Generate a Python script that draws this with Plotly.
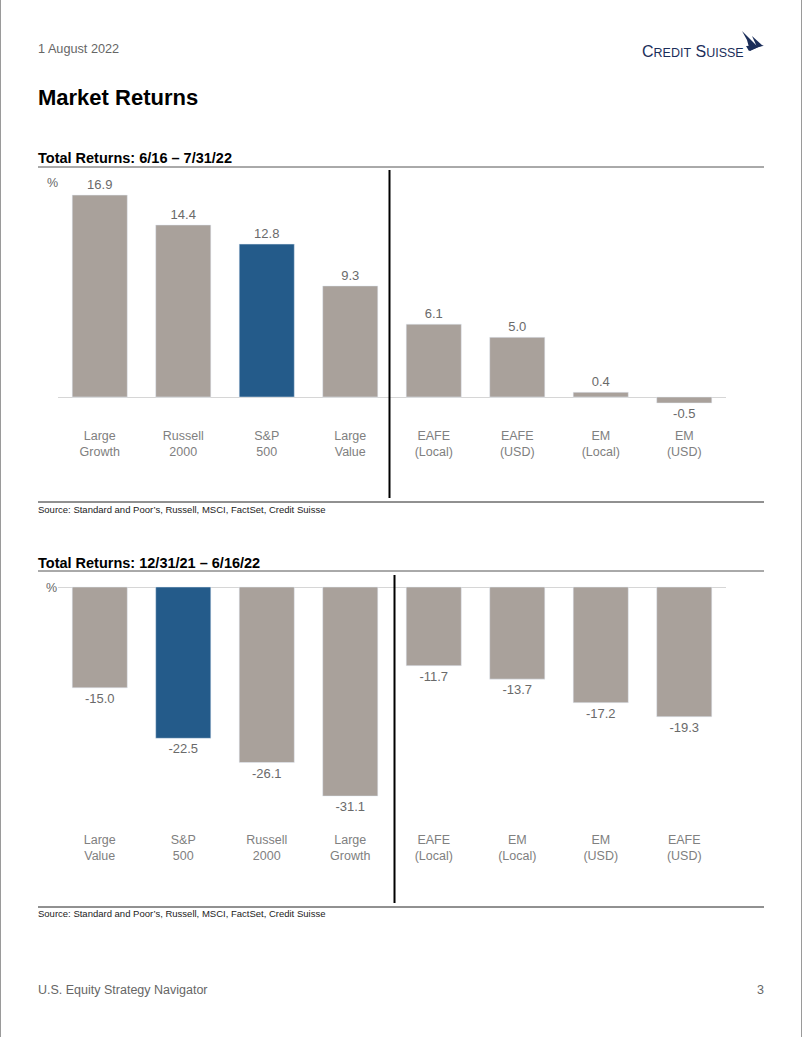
import plotly.graph_objects as go

W, H = 802, 1037

# ---- data ----
cats_top = ["Large<br>Growth", "Russell<br>2000", "S&P<br>500", "Large<br>Value",
            "EAFE<br>(Local)", "EAFE<br>(USD)", "EM<br>(Local)", "EM<br>(USD)"]
vals_top = [16.9, 14.4, 12.8, 9.3, 6.1, 5.0, 0.4, -0.5]

cats_bot = ["Large<br>Value", "S&P<br>500", "Russell<br>2000", "Large<br>Growth",
            "EAFE<br>(Local)", "EM<br>(Local)", "EM<br>(USD)", "EAFE<br>(USD)"]
vals_bot = [-15.0, -22.5, -26.1, -31.1, -11.7, -13.7, -17.2, -19.3]

highlight = "S&P<br>500"
GREY = "#A9A19B"
BLUE = "#245B8A"
NAVY = "#1B2E5A"
FONT = "Liberation Sans, Arial, sans-serif"


def px(x):
    return x / W


def py(y):
    return 1 - y / H


def colors(cats):
    return [BLUE if c == highlight else GREY for c in cats]


fig = go.Figure()

fig.add_trace(go.Bar(
    x=list(range(len(cats_top))), y=vals_top, marker_color=colors(cats_top),
    width=0.66, text=[f"{v:.1f}" for v in vals_top], textposition="outside",
    textfont=dict(size=13, color="#6a6a6a", family=FONT), cliponaxis=False,
    constraintext="none", xaxis="x", yaxis="y", showlegend=False, hoverinfo="skip"))

fig.add_trace(go.Bar(
    x=list(range(len(cats_bot))), y=vals_bot, marker_color=colors(cats_bot),
    width=0.66, text=[f"{v:.1f}" for v in vals_bot], textposition="outside",
    textfont=dict(size=13, color="#6a6a6a", family=FONT), cliponaxis=False,
    constraintext="none", xaxis="x2", yaxis="y2", showlegend=False, hoverinfo="skip"))

xcommon = dict(range=[-0.5, 7.5], domain=[px(58), px(726)], showline=False, ticks="",
               showgrid=False, zeroline=False, anchor="free",
               tickfont=dict(size=12.5, color="#808080", family=FONT), tickmode="array")

fig.update_layout(
    width=W, height=H, margin=dict(l=0, r=0, t=0, b=0),
    paper_bgcolor="white", plot_bgcolor="white", bargap=0.34,
    font=dict(family=FONT),
    xaxis=dict(**xcommon, position=py(426), tickvals=list(range(8)), ticktext=cats_top),
    yaxis=dict(domain=[py(498), py(170)], range=[-8.45, 19.0], showticklabels=False,
               showgrid=False, zeroline=True, zerolinecolor="#d6d6d6", zerolinewidth=1),
    xaxis2=dict(**xcommon, position=py(830), tickvals=list(range(8)), ticktext=cats_bot),
    yaxis2=dict(domain=[py(903), py(575)], range=[-47.0, 1.79], showticklabels=False,
                showgrid=False, zeroline=True, zerolinecolor="#d6d6d6", zerolinewidth=1),
)

shapes = []
# divider lines
shapes.append(dict(type="line", xref="x", yref="paper", x0=3.47, x1=3.47,
                   y0=py(498), y1=py(170), line=dict(color="black", width=2)))
shapes.append(dict(type="line", xref="x2", yref="paper", x0=3.53, x1=3.53,
                   y0=py(903), y1=py(575), line=dict(color="black", width=2)))
# title rules and bottom rules
for yy, col in [(167, "#555555"), (502, "#222222"), (571, "#555555"), (907, "#222222")]:
    shapes.append(dict(type="line", xref="paper", yref="paper", x0=px(38), x1=px(764),
                       y0=py(yy), y1=py(yy), line=dict(color=col, width=1)))
# page side borders
for xx in [0.5, 801.5]:
    shapes.append(dict(type="line", xref="paper", yref="paper", x0=px(xx), x1=px(xx),
                       y0=0, y1=1, line=dict(color="#9a9a9a", width=1)))


# logo sail
def pth(pts):
    return "M " + " L ".join(f"{px(a)},{py(b)}" for a, b in pts) + " Z"


shapes.append(dict(type="path", xref="paper", yref="paper",
                   path=pth([(742, 31), (758, 47), (750, 51), (747, 40)]),
                   fillcolor=NAVY, line=dict(width=0)))
shapes.append(dict(type="path", xref="paper", yref="paper",
                   path=pth([(752, 36), (763, 46), (757, 47)]),
                   fillcolor=NAVY, line=dict(width=0)))
shapes.append(dict(type="path", xref="paper", yref="paper",
                   path=pth([(746, 46), (764, 45), (749, 51)]),
                   fillcolor=NAVY, line=dict(width=0)))
fig.update_layout(shapes=shapes)


def ann(x, y, text, size, color="#000000", xanchor="left", family=FONT):
    fig.add_annotation(xref="paper", yref="paper", x=px(x), y=py(y), text=text,
                       showarrow=False, xanchor=xanchor, yanchor="middle",
                       font=dict(size=size, color=color, family=family))


ann(36, 49, "1 August 2022", 12.7, "#666666")
ann(36, 97, "<b>Market Returns</b>", 22, "#000000")
ann(746, 51, "C<span style='font-size:12.5px'>REDIT</span> S<span style='font-size:12.5px'>UISSE</span>",
    16, NAVY, xanchor="right")
ann(36, 158, "<b>Total Returns: 6/16 – 7/31/22</b>", 14.5)
ann(36, 563, "<b>Total Returns: 12/31/21 – 6/16/22</b>", 14.5)
ann(45, 183, "%", 12.5, "#666666")
ann(44, 588, "%", 12.5, "#666666")
ann(36, 509, "Source: Standard and Poor’s, Russell, MSCI, FactSet, Credit Suisse", 9.5, "#222222")
ann(36, 913, "Source: Standard and Poor’s, Russell, MSCI, FactSet, Credit Suisse", 9.5, "#222222")
ann(36, 990, "U.S. Equity Strategy Navigator", 12.5, "#666666")
ann(766, 990, "3", 12.5, "#666666", xanchor="right")

fig.write_html("out.html", config={"displayModeBar": False},
               post_script="document.body.style.margin='0px';document.body.style.overflow='hidden';")
